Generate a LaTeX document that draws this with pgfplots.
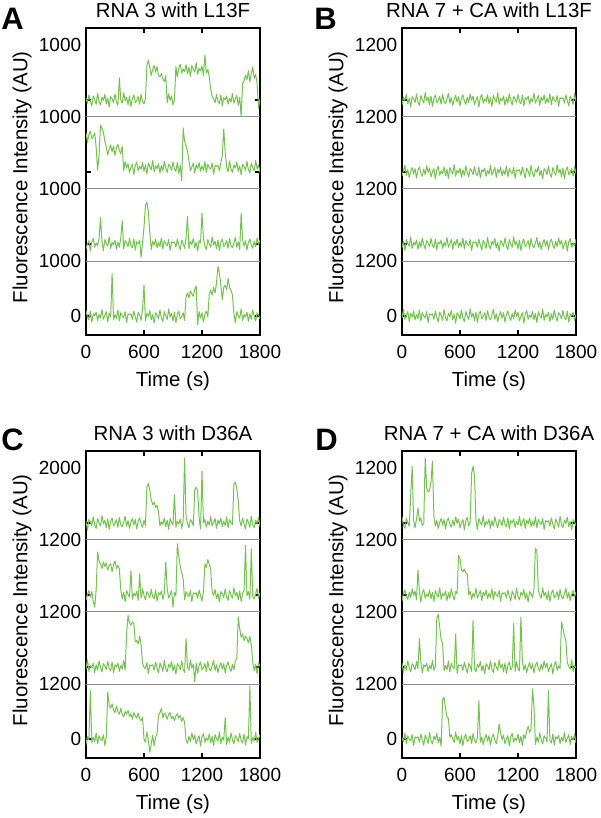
\documentclass[border=0pt]{standalone}
\usepackage{pgfplots}
\pgfplotsset{compat=1.18}
\usepackage{fontspec}
\setmainfont{Liberation Sans}
\definecolor{trgreen}{RGB}{116,195,80}
\definecolor{sepgray}{RGB}{140,140,140}
\pgfplotsset{
 panel/.style={
  scale only axis, width=87pt, height=153.5pt,
  xmin=0, xmax=1800, ymin=-345, ymax=5237,
  axis line style={line width=1.1pt, black},
  tick align=inside,
  xtick={0,600,1200,1800}, xticklabels={0,600,1200,1800},
  ytick={0,1310,2620,3930}, yticklabels={,,,},
  extra y ticks={0,1000,2310,3620,4930},
  extra y tick style={major tick length=0pt},
  major tick length=2.5pt,
  tick style={black, line width=0.9pt},
  tick label style={font=\fontsize{9.5}{11}\selectfont, inner sep=0pt},
  yticklabel style={xshift=-2.2pt},
  xticklabel style={yshift=-5pt},
  /pgf/number format/assume math mode=true,
  xlabel={Time (s)},
  ylabel={Fluorescence Intensity (AU)},
  label style={font=\fontsize{10.2}{12}\selectfont},
  xlabel style={at={(axis description cs:0.5,0)}, anchor=north, inner sep=0pt, yshift=-18.3pt},
  ylabel style={at={(axis description cs:-0.31,0.514)}, anchor=south, inner sep=0pt},
  every axis title/.style={at={(axis description cs:0.5,1)}, anchor=base, inner sep=0pt, yshift=5pt, font=\fontsize{10.2}{12}\selectfont},
 },
 trace/.style={trgreen, line width=0.5pt, line join=round, no markers},
 sep/.style={sepgray, line width=0.5pt, no markers},
}
\begin{document}
\begin{tikzpicture}
\useasboundingbox (0,0) rectangle (300pt,409pt);
\node[anchor=base west, inner sep=0pt, font=\bfseries\fontsize{15.5}{17}\selectfont] at (0.5pt,394pt) {A};
\node[anchor=base west, inner sep=0pt, font=\bfseries\fontsize{15.5}{17}\selectfont] at (157pt,394pt) {B};
\node[anchor=base west, inner sep=0pt, font=\bfseries\fontsize{15.5}{17}\selectfont] at (0.5pt,183.5pt) {C};
\node[anchor=base west, inner sep=0pt, font=\bfseries\fontsize{15.5}{17}\selectfont] at (157.5pt,183.5pt) {D};

% ---------------- Panel A ----------------
\begin{axis}[panel, at={(43pt,241.5pt)}, anchor=south west,
  title={RNA 3 with L13F}, extra y tick labels={0,1000,1000,1000,1000}]
\addplot[sep] coordinates {(0,1000)(1800,1000)};
\addplot[sep] coordinates {(0,2310)(1800,2310)};
\addplot[sep] coordinates {(0,3620)(1800,3620)};
\addplot[trace] table[row sep=\\, header=false, x expr=\coordindex*15, y expr=\thisrowno{0}+3930] {
40\\ -60\\ 90\\ -20\\ -110\\ 70\\ 10\\ -80\\ 120\\ -30\\
-90\\ 50\\ -10\\ 100\\ -70\\ 30\\ -130\\ 60\\ 20\\ -50\\
110\\ -40\\ -100\\ 400\\ 0\\ -60\\ 130\\ -20\\ 50\\ -90\\
70\\ -120\\ 30\\ 90\\ -50\\ -10\\ 60\\ -80\\ 100\\ -30\\
-70\\ 20\\ 620\\ 720\\ 585\\ 445\\ 555\\ 625\\ 505\\ 605\\
435\\ 420\\ 480\\ 380\\ 330\\ 440\\ -50\\ 110\\ -10\\ 70\\
-90\\ 0\\ 605\\ 415\\ 585\\ 645\\ 485\\ 565\\ 515\\ 635\\
475\\ 595\\ 425\\ 625\\ 555\\ 505\\ 675\\ 465\\ 575\\ 525\\
615\\ 445\\ 820\\ 485\\ 555\\ 420\\ 200\\ 60\\ 20\\ -50\\
100\\ -30\\ -70\\ 90\\ -110\\ 40\\ 0\\ 70\\ -80\\ 30\\
-40\\ 120\\ -60\\ 10\\ 80\\ -100\\ 50\\ -300\\ 300\\ 350\\
450\\ 370\\ 530\\ 330\\ 480\\ 600\\ 390\\ 460\\ 300\\ -150\\ 20\\
};
\addplot[trace] table[row sep=\\, header=false, x expr=\coordindex*15, y expr=\thisrowno{0}+2620] {
720\\ 530\\ 680\\ 740\\ 600\\ 640\\ 710\\ 450\\ 30\\ 300\\
850\\ 800\\ 720\\ 560\\ 450\\ 310\\ 420\\ 490\\ 370\\ 470\\
300\\ 440\\ 500\\ 390\\ 330\\ 460\\ 30\\ 190\\ 70\\ 150\\
-10\\ 80\\ 140\\ -50\\ 120\\ 180\\ 20\\ 100\\ 50\\ 170\\
10\\ 130\\ -40\\ 160\\ 90\\ 40\\ 210\\ 0\\ 110\\ 60\\
150\\ -20\\ 120\\ 20\\ 190\\ 70\\ -10\\ 140\\ 100\\ 30\\
180\\ 50\\ 10\\ 170\\ -30\\ 120\\ -160\\ 800\\ 560\\ 470\\
380\\ 200\\ 20\\ 90\\ 160\\ -20\\ 130\\ 60\\ 170\\ 10\\
110\\ 30\\ 190\\ -10\\ 140\\ 80\\ 50\\ 160\\ -40\\ 120\\
100\\ 120\\ 20\\ 170\\ 300\\ 780\\ 350\\ 90\\ 0\\ 200\\
50\\ -10\\ 130\\ 70\\ 180\\ 10\\ 110\\ -50\\ 140\\ 100\\
30\\ 190\\ 40\\ -20\\ 160\\ 80\\ 20\\ 210\\ 60\\ 130\\ -10\\
};
\addplot[trace] table[row sep=\\, header=false, x expr=\coordindex*15, y expr=\thisrowno{0}+1310] {
-90\\ 0\\ 60\\ -130\\ 40\\ 100\\ -60\\ 20\\ -30\\ 90\\
480\\ 50\\ -120\\ 80\\ 10\\ -40\\ 130\\ -80\\ 30\\ -20\\
70\\ -100\\ 40\\ -60\\ 110\\ 420\\ -90\\ 60\\ 20\\ -50\\
100\\ -30\\ -70\\ 90\\ -110\\ 40\\ 0\\ 70\\ -240\\ 30\\
300\\ 700\\ 760\\ 600\\ 200\\ -100\\ 50\\ -20\\ 90\\ -70\\
30\\ -50\\ 110\\ -90\\ 60\\ 0\\ -30\\ 80\\ -120\\ 40\\
20\\ 40\\ -60\\ 90\\ -20\\ -110\\ 70\\ 10\\ -80\\ 120\\
500\\ -90\\ 50\\ -10\\ 100\\ -70\\ 30\\ -130\\ 60\\ 20\\
560\\ 110\\ -40\\ -100\\ 80\\ 0\\ -60\\ 130\\ -20\\ 50\\
-90\\ 70\\ -120\\ 30\\ 90\\ -50\\ -10\\ 60\\ -80\\ 100\\
-30\\ -70\\ 20\\ 120\\ -60\\ 40\\ -100\\ 560\\ 80\\ -40\\
60\\ -110\\ 30\\ 90\\ -20\\ -80\\ 50\\ -50\\ 110\\ -10\\ 70\\
};
\addplot[trace] table[row sep=\\, header=false, x expr=\coordindex*15, y expr=\thisrowno{0}] {
100\\ -30\\ -70\\ 90\\ -110\\ 40\\ 0\\ 70\\ -80\\ 30\\
-40\\ 120\\ -60\\ 10\\ 80\\ -100\\ 50\\ -20\\ 775\\ -70\\
30\\ -50\\ 110\\ -90\\ 60\\ 0\\ -30\\ 80\\ -120\\ 40\\
20\\ 40\\ -60\\ 90\\ -20\\ -110\\ 70\\ 10\\ -80\\ 120\\
560\\ -90\\ 50\\ -10\\ 100\\ -70\\ 30\\ -130\\ 60\\ 20\\
-50\\ 110\\ -40\\ -100\\ 80\\ 0\\ -60\\ 130\\ -20\\ 50\\
-90\\ 70\\ -120\\ 30\\ 90\\ -50\\ -10\\ 60\\ -80\\ 350\\
420\\ 330\\ 460\\ 400\\ 360\\ 480\\ 550\\ -160\\ 80\\ -40\\
60\\ -110\\ 30\\ 90\\ -20\\ 400\\ 470\\ 380\\ 520\\ 420\\
600\\ 900\\ 780\\ 560\\ 300\\ 520\\ 560\\ 480\\ 680\\ 520\\
470\\ 380\\ 50\\ -120\\ 80\\ 10\\ -40\\ 130\\ -80\\ 30\\
-20\\ 70\\ -100\\ 40\\ -60\\ 110\\ -10\\ -90\\ 60\\ 20\\ -50\\
};
\end{axis}

% ---------------- Panel B ----------------
\begin{axis}[panel, at={(201pt,241.5pt)}, anchor=south west,
  title={RNA 7 + CA with L13F}, extra y tick labels={0,1200,1200,1200,1200}]
\addplot[sep] coordinates {(0,1000)(1800,1000)};
\addplot[sep] coordinates {(0,2310)(1800,2310)};
\addplot[sep] coordinates {(0,3620)(1800,3620)};
\addplot[trace] table[row sep=\\, header=false, x expr=\coordindex*15, y expr=\thisrowno{0}+3930] {
-90\\ 50\\ -10\\ 100\\ -70\\ 30\\ -130\\ 60\\ 20\\ -50\\
110\\ -40\\ -100\\ 80\\ 0\\ -60\\ 130\\ -20\\ 50\\ -90\\
70\\ -120\\ 30\\ 90\\ -50\\ -10\\ 60\\ -80\\ 100\\ -30\\
-70\\ 20\\ 120\\ -60\\ 40\\ -100\\ 10\\ 80\\ -40\\ 60\\
-110\\ 30\\ 90\\ -20\\ -80\\ 50\\ -50\\ 110\\ -10\\ 70\\
-90\\ 0\\ 60\\ -130\\ 40\\ 100\\ -60\\ 20\\ -30\\ 90\\
-70\\ 50\\ -120\\ 80\\ 10\\ -40\\ 130\\ -80\\ 30\\ -20\\
70\\ -100\\ 40\\ -60\\ 110\\ -10\\ -90\\ 60\\ 20\\ -50\\
100\\ -30\\ -70\\ 90\\ -110\\ 40\\ 0\\ 70\\ -80\\ 30\\
-40\\ 120\\ -60\\ 10\\ 80\\ -100\\ 50\\ -20\\ 90\\ -70\\
30\\ -50\\ 110\\ -90\\ 60\\ 0\\ -30\\ 80\\ -120\\ 40\\ 20\\
40\\ -60\\ 90\\ -20\\ -110\\ 70\\ 10\\ -80\\ 120\\ -30\\
};
\addplot[trace] table[row sep=\\, header=false, x expr=\coordindex*15, y expr=\thisrowno{0}+2620] {
-70\\ 20\\ 120\\ -60\\ 40\\ -100\\ 10\\ 80\\ -40\\ 60\\
-110\\ 30\\ 90\\ -20\\ -80\\ 50\\ -50\\ 110\\ -10\\ 70\\
-90\\ 0\\ 60\\ -130\\ 40\\ 100\\ -60\\ 20\\ -30\\ 90\\
-70\\ 50\\ -120\\ 80\\ 10\\ -40\\ 130\\ -80\\ 30\\ -20\\
70\\ -100\\ 40\\ -60\\ 110\\ -10\\ -90\\ 60\\ 20\\ -50\\
100\\ -30\\ -70\\ 90\\ -110\\ 40\\ 0\\ 70\\ -80\\ 30\\
-40\\ 120\\ -60\\ 10\\ 80\\ -100\\ 50\\ -20\\ 90\\ -70\\
30\\ -50\\ 110\\ -90\\ 60\\ 0\\ -30\\ 80\\ -120\\ 40\\ 20\\
40\\ -60\\ 90\\ -20\\ -110\\ 70\\ 10\\ -80\\ 120\\ -30\\
-90\\ 50\\ -10\\ 100\\ -70\\ 30\\ -130\\ 60\\ 20\\ -50\\
110\\ -40\\ -100\\ 80\\ 0\\ -60\\ 130\\ -20\\ 50\\ -90\\
70\\ -120\\ 30\\ 90\\ -50\\ -10\\ 60\\ -80\\ 100\\ -30\\
};
\addplot[trace] table[row sep=\\, header=false, x expr=\coordindex*15, y expr=\thisrowno{0}+1310] {
-70\\ 50\\ -120\\ 80\\ 10\\ -40\\ 130\\ -80\\ 30\\ -20\\
70\\ -100\\ 40\\ -60\\ 110\\ -10\\ -90\\ 60\\ 20\\ -50\\
100\\ -30\\ -70\\ 90\\ -110\\ 40\\ 0\\ 70\\ -80\\ 30\\
-40\\ 120\\ -60\\ 10\\ 80\\ -100\\ 50\\ -20\\ 90\\ -70\\
30\\ -50\\ 110\\ -90\\ 60\\ 0\\ -30\\ 80\\ -120\\ 40\\ 20\\
40\\ -60\\ 90\\ -20\\ -110\\ 70\\ 10\\ -80\\ 120\\ -30\\
-90\\ 50\\ -10\\ 100\\ -70\\ 30\\ -130\\ 60\\ 20\\ -50\\
110\\ -40\\ -100\\ 80\\ 0\\ -60\\ 130\\ -20\\ 50\\ -90\\
70\\ -120\\ 30\\ 90\\ -50\\ -10\\ 60\\ -80\\ 100\\ -30\\
-70\\ 20\\ 120\\ -60\\ 40\\ -100\\ 10\\ 80\\ -40\\ 60\\
-110\\ 30\\ 90\\ -20\\ -80\\ 50\\ -50\\ 110\\ -10\\ 70\\
-90\\ 0\\ 60\\ -130\\ 40\\ 100\\ -60\\ 20\\ -30\\ 90\\
};
\addplot[trace] table[row sep=\\, header=false, x expr=\coordindex*15, y expr=\thisrowno{0}] {
-40\\ 120\\ -60\\ 10\\ 80\\ -100\\ 50\\ -20\\ 90\\ -70\\
30\\ -50\\ 110\\ -90\\ 60\\ 0\\ -30\\ 80\\ -120\\ 40\\ 20\\
40\\ -60\\ 90\\ -20\\ -110\\ 70\\ 10\\ -80\\ 120\\ -30\\
-90\\ 50\\ -10\\ 100\\ -70\\ 30\\ -130\\ 60\\ 20\\ -50\\
110\\ -40\\ -100\\ 80\\ 0\\ -60\\ 130\\ -20\\ 50\\ -90\\
70\\ -120\\ 30\\ 90\\ -50\\ -10\\ 60\\ -80\\ 100\\ -30\\
-70\\ 20\\ 120\\ -60\\ 40\\ -100\\ 10\\ 80\\ -40\\ 60\\
-110\\ 30\\ 90\\ -20\\ -80\\ 50\\ -50\\ 110\\ -10\\ 70\\
-90\\ 0\\ 60\\ -130\\ 40\\ 100\\ -60\\ 20\\ -30\\ 90\\
-70\\ 50\\ -120\\ 80\\ 10\\ -40\\ 130\\ -80\\ 30\\ -20\\
70\\ -100\\ 40\\ -60\\ 110\\ -10\\ -90\\ 60\\ 20\\ -50\\
100\\ -30\\ -70\\ 90\\ -110\\ 40\\ 0\\ 70\\ -80\\ 30\\
};
\end{axis}

% ---------------- Panel C ----------------
\begin{axis}[panel, at={(43pt,30pt)}, anchor=south west,
  title={RNA 3 with D36A}, extra y tick labels={0,1200,1200,1200,2000}]
\addplot[sep] coordinates {(0,1000)(1800,1000)};
\addplot[sep] coordinates {(0,2310)(1800,2310)};
\addplot[sep] coordinates {(0,3620)(1800,3620)};
\addplot[trace] table[row sep=\\, header=false, x expr=\coordindex*15, y expr=\thisrowno{0}+3930] {
30\\ -130\\ 60\\ 20\\ -50\\ 110\\ -40\\ -100\\ 80\\ 0\\
-60\\ 130\\ -20\\ 50\\ -90\\ 70\\ -120\\ 30\\ 90\\ -50\\
-10\\ 60\\ -80\\ 100\\ -30\\ -70\\ 20\\ 120\\ -60\\ 40\\
-100\\ 10\\ 80\\ -40\\ 60\\ -110\\ 30\\ 90\\ -20\\ -80\\
50\\ -50\\ 650\\ 720\\ 600\\ 420\\ 330\\ 380\\ 280\\ 320\\
200\\ -60\\ 20\\ -30\\ 90\\ -70\\ 50\\ -120\\ 80\\ 10\\
-40\\ 515\\ -80\\ 30\\ -20\\ 70\\ -100\\ 40\\ 1180\\ 110\\
-10\\ -90\\ 60\\ 20\\ -50\\ 600\\ 650\\ 580\\ 90\\ -110\\
940\\ 0\\ 70\\ -80\\ 30\\ -40\\ 120\\ -60\\ 10\\ 80\\
-100\\ 50\\ -20\\ 90\\ -70\\ 30\\ -50\\ 110\\ -90\\ 60\\
0\\ -30\\ 700\\ 740\\ 620\\ 400\\ 40\\ -60\\ 90\\ -20\\
-110\\ 70\\ 10\\ -80\\ 120\\ -30\\ -90\\ 50\\ -10\\ 100\\ -70\\
};
\addplot[trace] table[row sep=\\, header=false, x expr=\coordindex*15, y expr=\thisrowno{0}+2620] {
-100\\ 10\\ 80\\ -40\\ 60\\ -110\\ -220\\ 90\\ 780\\ 620\\
560\\ 480\\ 600\\ 520\\ 580\\ 450\\ 530\\ 570\\ 420\\ 560\\
620\\ 480\\ 540\\ 470\\ 90\\ -70\\ 50\\ -120\\ 80\\ 10\\
-40\\ 440\\ -80\\ 30\\ -20\\ 70\\ -100\\ 380\\ -60\\ 110\\
-10\\ -90\\ 60\\ 20\\ -50\\ 100\\ -30\\ -70\\ 90\\ -110\\
40\\ 0\\ 70\\ -80\\ 30\\ 590\\ 120\\ -60\\ 10\\ 80\\
-220\\ 50\\ -20\\ 930\\ 700\\ 520\\ 400\\ 300\\ -90\\ 60\\
0\\ -30\\ 80\\ -120\\ 40\\ 20\\ 40\\ -60\\ 90\\ -20\\
-110\\ 70\\ 560\\ 500\\ 640\\ 560\\ 460\\ 50\\ -10\\ 100\\
-70\\ 30\\ -130\\ 60\\ 20\\ -50\\ 110\\ -40\\ -100\\ 80\\
0\\ -60\\ 130\\ -20\\ 50\\ -90\\ 70\\ -120\\ 30\\ 90\\
900\\ -10\\ 60\\ -80\\ 840\\ -30\\ -70\\ 20\\ 120\\ -60\\ 40\\
};
\addplot[trace] table[row sep=\\, header=false, x expr=\coordindex*15, y expr=\thisrowno{0}+1310] {
-40\\ 130\\ -80\\ 30\\ -20\\ 70\\ -100\\ 40\\ -60\\ 110\\
-10\\ -90\\ 60\\ 20\\ -50\\ 100\\ -30\\ -70\\ 90\\ -110\\
40\\ 0\\ 70\\ -80\\ 30\\ -40\\ 120\\ -60\\ 600\\ 940\\
800\\ 760\\ 820\\ 790\\ 460\\ 480\\ 420\\ 560\\ 400\\ 60\\
0\\ -30\\ 80\\ -120\\ 40\\ 20\\ 40\\ -60\\ 90\\ -20\\
-110\\ 70\\ 10\\ -80\\ 120\\ -30\\ -90\\ 50\\ -10\\ 100\\
-70\\ 30\\ -130\\ 60\\ 20\\ -50\\ 110\\ -40\\ -100\\ 515\\
0\\ -60\\ 130\\ -20\\ 50\\ -270\\ 70\\ -120\\ 30\\ 90\\
-50\\ -10\\ 60\\ -80\\ 100\\ -30\\ -70\\ 20\\ 120\\ -60\\
40\\ -100\\ 10\\ 80\\ -40\\ 60\\ -110\\ 30\\ 90\\ -20\\
-80\\ 50\\ -50\\ 110\\ 150\\ 910\\ 700\\ 540\\ 600\\ 480\\
560\\ 520\\ 440\\ 560\\ 400\\ 90\\ -70\\ 50\\ -120\\ 80\\ 10\\
};
\addplot[trace] table[row sep=\\, header=false, x expr=\coordindex*15, y expr=\thisrowno{0}] {
-100\\ 50\\ -20\\ 880\\ -70\\ 30\\ -50\\ 110\\ -90\\ 60\\
0\\ -30\\ 80\\ -120\\ 40\\ 850\\ 620\\ 560\\ 640\\ 520\\
480\\ 600\\ 500\\ 450\\ 560\\ 440\\ 400\\ 500\\ 450\\ 520\\
410\\ 460\\ 360\\ 480\\ 420\\ 380\\ 470\\ 370\\ 330\\ 400\\
0\\ -60\\ 130\\ -20\\ -240\\ -90\\ 70\\ -120\\ 30\\ 90\\
420\\ 480\\ 560\\ 380\\ 470\\ 430\\ 360\\ 450\\ 480\\ 370\\
410\\ 330\\ 420\\ 460\\ 380\\ 430\\ 320\\ 390\\ 300\\ -20\\
-80\\ 50\\ -50\\ 110\\ -10\\ 70\\ -90\\ 0\\ 60\\ -130\\
40\\ 100\\ -60\\ 20\\ -30\\ 90\\ -70\\ 50\\ -120\\ 80\\
10\\ -40\\ 130\\ -80\\ 30\\ -20\\ 390\\ -100\\ 40\\ -60\\
110\\ -10\\ -90\\ 60\\ 20\\ -50\\ 100\\ -30\\ -70\\ 90\\
-110\\ 40\\ 0\\ 970\\ -80\\ 30\\ -40\\ 120\\ -60\\ 10\\ 80\\
};
\end{axis}

% ---------------- Panel D ----------------
\begin{axis}[panel, at={(201pt,30pt)}, anchor=south west,
  title={RNA 7 + CA with D36A}, extra y tick labels={0,1200,1200,1200,1200}]
\addplot[sep] coordinates {(0,1000)(1800,1000)};
\addplot[sep] coordinates {(0,2310)(1800,2310)};
\addplot[sep] coordinates {(0,3620)(1800,3620)};
\addplot[trace] table[row sep=\\, header=false, x expr=\coordindex*15, y expr=\thisrowno{0}+3930] {
110\\ -40\\ -100\\ 80\\ 0\\ -60\\ 500\\ 1030\\ 50\\ -90\\
70\\ 270\\ 30\\ 90\\ -50\\ -10\\ 1180\\ 640\\ 560\\ 590\\
750\\ 1120\\ 120\\ -60\\ 40\\ -100\\ 10\\ 80\\ -40\\ 60\\
-110\\ 30\\ 90\\ -20\\ -80\\ 50\\ -50\\ 110\\ -10\\ 70\\
-90\\ 0\\ 60\\ -130\\ 40\\ 100\\ -60\\ 20\\ 900\\ 1030\\
850\\ 50\\ -120\\ 80\\ 10\\ -40\\ 130\\ -80\\ 30\\ -20\\
70\\ -100\\ 40\\ -60\\ 110\\ -10\\ -90\\ 60\\ 20\\ -50\\
100\\ -30\\ -70\\ 90\\ -110\\ 40\\ 0\\ 70\\ -80\\ 30\\
-40\\ 120\\ -60\\ 10\\ 80\\ -100\\ 50\\ -20\\ 90\\ -70\\
30\\ -50\\ 110\\ -90\\ 60\\ 0\\ -30\\ 80\\ -120\\ 40\\
20\\ 40\\ -60\\ 90\\ -20\\ -110\\ 70\\ 10\\ -80\\ 120\\
-30\\ -90\\ 50\\ -10\\ 100\\ -70\\ 30\\ -130\\ 60\\ 20\\ -50\\
};
\addplot[trace] table[row sep=\\, header=false, x expr=\coordindex*15, y expr=\thisrowno{0}+2620] {
-110\\ 30\\ 90\\ -20\\ -80\\ 50\\ -50\\ 110\\ -10\\ 70\\
-90\\ 450\\ 60\\ -130\\ 40\\ 100\\ -60\\ 20\\ -30\\ 90\\
-70\\ 50\\ -120\\ 80\\ 10\\ -40\\ 130\\ -80\\ 30\\ -20\\
70\\ -100\\ 40\\ -60\\ 110\\ -10\\ -90\\ 60\\ 20\\ 720\\
660\\ 450\\ 420\\ 470\\ 400\\ 380\\ 0\\ 70\\ -80\\ 30\\
-40\\ 120\\ -60\\ 10\\ 80\\ -100\\ 50\\ -20\\ 90\\ -70\\
30\\ -50\\ 110\\ -90\\ 60\\ 0\\ -30\\ 80\\ -120\\ 40\\
20\\ 40\\ -60\\ 90\\ -20\\ -110\\ 70\\ 10\\ -80\\ 120\\
-30\\ -90\\ 50\\ -10\\ 100\\ -70\\ 30\\ -130\\ 60\\ 20\\
-50\\ 110\\ 850\\ 800\\ 80\\ 0\\ -60\\ 130\\ -20\\ 50\\
-90\\ 70\\ -120\\ 30\\ 90\\ -50\\ -10\\ 60\\ -80\\ 100\\
-30\\ -70\\ 20\\ 120\\ -60\\ 40\\ -100\\ 10\\ 80\\ -40\\ 60\\
};
\addplot[trace] table[row sep=\\, header=false, x expr=\coordindex*15, y expr=\thisrowno{0}+1310] {
70\\ -100\\ 40\\ -60\\ 110\\ -10\\ -90\\ 60\\ 20\\ -50\\
100\\ -30\\ 515\\ 90\\ -110\\ 40\\ 0\\ 70\\ -80\\ 30\\
-40\\ 120\\ -60\\ 10\\ 880\\ 960\\ 720\\ 500\\ 420\\ -70\\
30\\ -50\\ 110\\ -90\\ 60\\ 0\\ -30\\ 600\\ -120\\ 40\\
20\\ 40\\ -60\\ 90\\ -20\\ -110\\ 70\\ 10\\ -80\\ 850\\
-30\\ -90\\ 50\\ -10\\ 100\\ -70\\ 30\\ -130\\ 60\\ 20\\
-50\\ 110\\ -40\\ -100\\ 80\\ 0\\ -60\\ 130\\ -20\\ 50\\
-90\\ 70\\ -120\\ 30\\ 90\\ -50\\ -10\\ 790\\ -80\\ 100\\
-30\\ -70\\ 910\\ 120\\ -60\\ 40\\ -100\\ 10\\ 80\\ -40\\
60\\ -110\\ 30\\ 90\\ -20\\ -80\\ 50\\ -50\\ 110\\ -10\\
70\\ -90\\ 0\\ 60\\ -130\\ 40\\ 100\\ -60\\ 20\\ -30\\
820\\ 700\\ 560\\ 480\\ 80\\ 10\\ -40\\ 130\\ -80\\ 30\\ -20\\
};
\addplot[trace] table[row sep=\\, header=false, x expr=\coordindex*15, y expr=\thisrowno{0}] {
30\\ -50\\ 110\\ -90\\ 60\\ 0\\ -30\\ 80\\ -120\\ 40\\
20\\ 40\\ -60\\ 90\\ -20\\ -110\\ 70\\ 10\\ -80\\ 120\\
-30\\ -90\\ 50\\ -10\\ 100\\ -70\\ 30\\ -130\\ 720\\ 760\\
560\\ 400\\ 380\\ 30\\ 80\\ 0\\ -60\\ 130\\ -20\\ 50\\
-90\\ 70\\ -120\\ 30\\ 90\\ -50\\ -10\\ 60\\ -80\\ 100\\
-30\\ -70\\ 20\\ 700\\ -60\\ 40\\ -100\\ 10\\ 80\\ -40\\
60\\ -110\\ 30\\ 90\\ -20\\ -80\\ 50\\ 270\\ 110\\ -10\\
70\\ -90\\ 0\\ 60\\ -130\\ 40\\ 100\\ -60\\ 20\\ -30\\
90\\ -70\\ 50\\ -120\\ 80\\ 10\\ 150\\ 230\\ 120\\ 180\\
910\\ 600\\ -100\\ 40\\ -60\\ 110\\ -10\\ -90\\ 60\\ 20\\
-50\\ 880\\ -30\\ -70\\ 90\\ -110\\ 40\\ 0\\ 70\\ -80\\
30\\ -40\\ 120\\ -60\\ 10\\ 80\\ -100\\ 50\\ -20\\ 90\\ -70\\
};
\end{axis}
\end{tikzpicture}
\end{document}
